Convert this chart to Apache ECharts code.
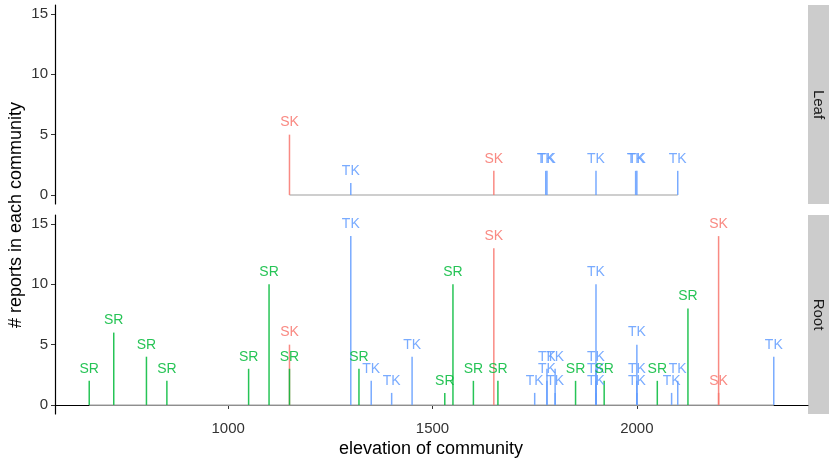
<!DOCTYPE html>
<html>
<head>
<meta charset="utf-8">
<script src="https://cdn.jsdelivr.net/npm/echarts@6/dist/echarts.min.js"></script>
<style>
html,body{margin:0;padding:0;background:#fff;}
#chart{width:829px;height:461px;}
</style>
</head>
<body>
<div id="chart"></div>
<script>
// ---- data ----
const panels = ['Leaf', 'Root'];
const xTicks = [1000, 1500, 2000];
const yTicks = [0, 5, 10, 15];

const leafElevation = [1150, 1300, 1650, 1777, 1780, 1900, 1997, 2000, 2100];
const leafReports   = [5, 1, 2, 2, 2, 2, 2, 2, 2];
const leafGroup     = ['SK', 'TK', 'SK', 'TK', 'TK', 'TK', 'TK', 'TK', 'TK'];

const rootElevation = [660, 720, 800, 850, 1050, 1100, 1150, 1150, 1300, 1320, 1350, 1400, 1450,
  1530, 1550, 1600, 1650, 1660, 1750, 1780, 1780, 1800, 1800, 1850, 1900, 1900, 1900, 1900,
  1920, 2000, 2000, 2000, 2050, 2085, 2100, 2125, 2200, 2200, 2335];
const rootReports   = [2, 6, 4, 2, 3, 10, 5, 3, 14, 3, 2, 1, 4,
  1, 10, 2, 13, 2, 1, 3, 2, 3, 1, 2, 10, 3, 2, 1,
  2, 5, 2, 1, 2, 1, 2, 8, 14, 1, 4];
const rootGroup     = ['SR', 'SR', 'SR', 'SR', 'SR', 'SR', 'SK', 'SR', 'TK', 'SR', 'TK', 'TK', 'TK',
  'SR', 'SR', 'SR', 'SK', 'SR', 'TK', 'TK', 'TK', 'TK', 'TK', 'SR', 'TK', 'TK', 'TK', 'TK',
  'SR', 'TK', 'TK', 'TK', 'SR', 'TK', 'TK', 'SR', 'SK', 'SK', 'TK'];

// ---- styles ----
const groupColor = { SK: 'rgba(248,118,109,0.85)', SR: 'rgba(0,186,56,0.85)', TK: 'rgba(97,156,255,0.85)' };
const FONT = '"Liberation Sans", Arial, Helvetica, sans-serif';

const allElev = leafElevation.concat(rootElevation);
const dMin = Math.min.apply(null, allElev), dMax = Math.max.apply(null, allElev);
const span = dMax - dMin;
const xMin = dMin - 0.05 * span, xMax = dMax + 0.05 * span;
const yMin = -0.75, yMax = 15.75;

const panelData = [
  { elev: leafElevation, rep: leafReports, grp: leafGroup },
  { elev: rootElevation, rep: rootReports, grp: rootGroup }
];

const grids = [
  { left: 55, top: 5, width: 753, height: 199 },
  { left: 55, top: 215, width: 753, height: 199 }
];

const xAxes = panels.map((p, i) => ({
  type: 'value', gridIndex: i, min: xMin, max: xMax,
  splitLine: { show: false },
  axisLine: { show: i === 1, lineStyle: { color: '#000', width: 1.2 } },
  axisTick: { show: i === 1, length: 4, lineStyle: { color: '#333', width: 1 }, customValues: xTicks },
  axisLabel: { show: i === 1, customValues: xTicks, margin: 7, color: '#333', fontSize: 15, fontFamily: FONT,
    formatter: function (v) { return String(v); } }
}));

const yAxes = panels.map((p, i) => ({
  type: 'value', gridIndex: i, min: yMin, max: yMax,
  splitLine: { show: false },
  axisLine: { show: true, onZero: false, lineStyle: { color: '#000', width: 1.2 } },
  axisTick: { show: true, length: 4, lineStyle: { color: '#333', width: 1 }, customValues: yTicks },
  axisLabel: { customValues: yTicks, margin: 7, color: '#333', fontSize: 15, fontFamily: FONT }
}));

const series = [];
panelData.forEach((pd, i) => {
  const lo = Math.min.apply(null, pd.elev), hi = Math.max.apply(null, pd.elev);
  series.push({
    type: 'line', xAxisIndex: i, yAxisIndex: i, silent: true, symbol: 'none',
    data: [[lo, 0], [hi, 0]],
    lineStyle: { color: '#BEBEBE', width: 1.6 }, z: 1
  });
  const pts = pd.elev.map((e, k) => [e, pd.rep[k]]);
  series.push({
    type: 'custom', xAxisIndex: i, yAxisIndex: i, silent: true, z: 2,
    data: pts,
    renderItem: function (params, api) {
      const e = api.value(0), c = api.value(1);
      const g = pd.grp[params.dataIndex];
      const p0 = api.coord([e, 0]), p1 = api.coord([e, c]);
      return {
        type: 'line',
        shape: { x1: p0[0], y1: p0[1], x2: p1[0], y2: p1[1] },
        style: { stroke: groupColor[g], lineWidth: 1.5 }
      };
    }
  });
  series.push({
    type: 'custom', xAxisIndex: i, yAxisIndex: i, silent: true, z: 3,
    data: pts,
    renderItem: function (params, api) {
      const e = api.value(0), c = api.value(1);
      const g = pd.grp[params.dataIndex];
      const p = api.coord([e, c + 1]);
      return {
        type: 'text',
        style: {
          text: g, x: p[0], y: p[1], fill: groupColor[g],
          fontSize: 14, fontFamily: FONT, align: 'center', verticalAlign: 'middle'
        }
      };
    }
  });
});

const graphic = [];
panels.forEach((p, i) => {
  const g = grids[i];
  graphic.push({ type: 'rect', left: 808, top: g.top, shape: { width: 21, height: g.height }, style: { fill: '#CCCCCC' }, silent: true });
  graphic.push({
    type: 'text', x: 818.5, y: g.top + g.height / 2, rotation: -Math.PI / 2,
    style: { text: p, fill: '#1A1A1A', fontSize: 15, fontFamily: FONT, align: 'center', verticalAlign: 'middle' }, silent: true
  });
});
graphic.push({
  type: 'text', x: 431, y: 449,
  style: { text: 'elevation of community', fill: '#000', fontSize: 18, fontFamily: FONT, align: 'center', verticalAlign: 'middle' }, silent: true
});
graphic.push({
  type: 'text', x: 16, y: 215, rotation: Math.PI / 2,
  style: { text: '# reports in each community', fill: '#000', fontSize: 18, fontFamily: FONT, align: 'center', verticalAlign: 'middle' }, silent: true
});

const chart = echarts.init(document.getElementById('chart'), null, { renderer: 'canvas' });
chart.setOption({
  animation: false,
  backgroundColor: '#fff',
  grid: grids,
  xAxis: xAxes,
  yAxis: yAxes,
  series: series,
  graphic: graphic
});
</script>
</body>
</html>
